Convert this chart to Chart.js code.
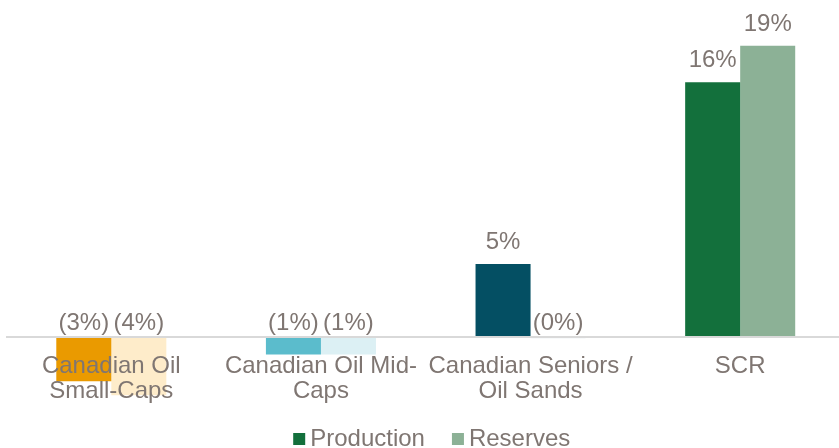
<!DOCTYPE html>
<html>
<head>
<meta charset="utf-8">
<script src="https://cdn.jsdelivr.net/npm/chart.js@4/dist/chart.umd.min.js"></script>
<style>
    html, body { margin: 0; padding: 0; background: #fff; overflow: hidden; }
    #wrap { position: relative; width: 845px; height: 448px; }
</style>
</head>
<body>
<div id="wrap"><canvas id="peerChart"></canvas></div>
<script>
// Datos
const categories = [['Canadian Oil', 'Small-Caps'], ['Canadian Oil Mid-', 'Caps'], ['Canadian Seniors /', 'Oil Sands'], 'SCR'];
const productionValues = [-2.8, -1.1, 4.7, 16.35];
const reservesValues = [-3.7, -1.1, -0.05, 18.7];
const productionLabels = ['(3%)', '(1%)', '5%', '16%'];
const reservesLabels = ['(4%)', '(1%)', '(0%)', '19%'];
const productionColors = ['#EA9A00', '#5BBCCC', '#044F63', '#13703C'];
const reservesColors = ['#FEECCA', '#DCF0F4', '#E3ECEF', '#8CB196'];
const seriesNames = ['Production', 'Reserves'];

const textColor = '#7F7672';
const fontFamily = '"Liberation Sans", Arial, sans-serif';

// Etiquetas de valor encima de cada barra
const barLabels = {
    id: 'barLabels',
    afterDatasetsDraw(chart) {
        const { ctx } = chart;
        const zeroY = chart.scales.y.getPixelForValue(0);
        ctx.save();
        ctx.font = `24px ${fontFamily}`;
        ctx.fillStyle = textColor;
        ctx.textAlign = 'center';
        ctx.textBaseline = 'alphabetic';
        [productionLabels, reservesLabels].forEach((texts, di) => {
            chart.getDatasetMeta(di).data.forEach((bar, i) => {
                const v = chart.data.datasets[di].data[i];
                const y = v >= 0 ? bar.y - 15 : zeroY - 7.5;
                ctx.fillText(texts[i], bar.x, y);
            });
        });
        ctx.restore();
    }
};

// Leyenda dibujada a mano (cuadro + texto)
const bottomLegend = {
    id: 'bottomLegend',
    afterDraw(chart) {
        const { ctx, chartArea } = chart;
        const box = 12, gapText = 5, gapItem = 27;
        ctx.save();
        ctx.font = `24px ${fontFamily}`;
        ctx.textBaseline = 'middle';
        ctx.textAlign = 'left';
        const widths = seriesNames.map(n => ctx.measureText(n).width);
        const total = widths.reduce((a, w) => a + box + gapText + w, 0) + gapItem;
        let x = (chartArea.left + chartArea.right) / 2 - total / 2 + 6;
        const y = 439;
        const swatches = [productionColors[3], reservesColors[3]];
        seriesNames.forEach((name, i) => {
            ctx.fillStyle = swatches[i];
            ctx.fillRect(x, y - 6, box, box);
            ctx.fillStyle = textColor;
            ctx.fillText(name, x + box + gapText, y);
            x += box + gapText + widths[i] + gapItem;
        });
        ctx.restore();
    }
};

const ctx = document.getElementById('peerChart').getContext('2d');
new Chart(ctx, {
    type: 'bar',
    data: {
        labels: categories,
        datasets: [{
            label: seriesNames[0],
            data: productionValues,
            backgroundColor: productionColors,
            categoryPercentage: 0.525,
            barPercentage: 1
        }, {
            label: seriesNames[1],
            data: reservesValues,
            backgroundColor: reservesColors,
            categoryPercentage: 0.525,
            barPercentage: 1
        }]
    },
    options: {
        responsive: true,
        maintainAspectRatio: false,
        animation: false,
        layout: { padding: { left: 6.5, right: 0, top: 0, bottom: 26 } },
        scales: {
            x: {
                position: { y: 0 },
                grid: { display: false, drawTicks: false },
                border: { display: true, color: '#D9D9D9', width: 2, z: 1 },
                ticks: {
                    z: 1,
                    color: textColor,
                    padding: 16,
                    maxRotation: 0,
                    autoSkip: false,
                    font: { family: fontFamily, size: 24, lineHeight: 1.05 }
                }
            },
            y: {
                display: false,
                min: -5.42,
                max: 21.63
            }
        },
        plugins: {
            legend: { display: false },
            tooltip: { enabled: false }
        }
    },
    plugins: [barLabels, bottomLegend]
});
</script>
</body>
</html>
